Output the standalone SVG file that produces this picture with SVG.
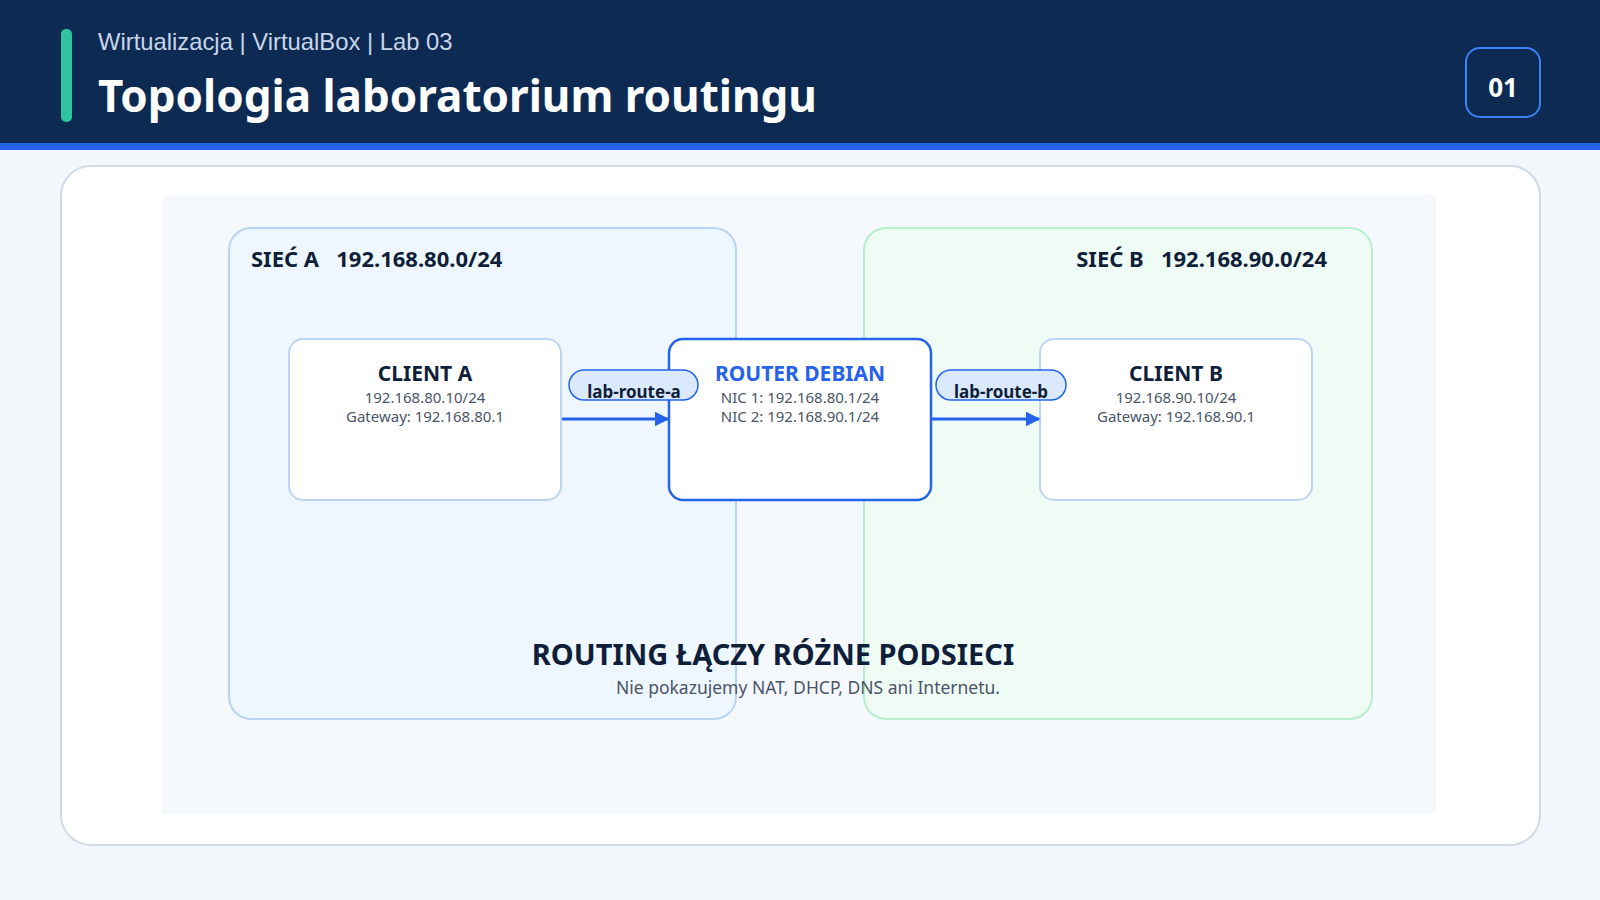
<svg xmlns="http://www.w3.org/2000/svg" width="1600" height="900" viewBox="0 0 1600 900">
<style>
.f{font-family:"Noto Sans","Open Sans",sans-serif}
.node{fill:#fff;stroke:#bcd5f5;stroke-width:2}
.nt{font-family:"Noto Sans",sans-serif;font-weight:700;font-size:21px;fill:#0f1f3a;text-anchor:middle}
.ns{font-family:"Noto Sans",sans-serif;font-size:15px;fill:#4a5568;text-anchor:middle}
.pill{fill:#dbe9fd;stroke:#2563eb;stroke-width:1.5}
.pt{font-family:"Noto Sans",sans-serif;font-weight:700;font-size:17px;fill:#0f1f3a;text-anchor:middle}
.conn{stroke:#2563eb;stroke-width:3;fill:none}
</style>
<defs><marker id="ah" viewBox="0 0 10 10" refX="9" refY="5" markerWidth="5" markerHeight="5" orient="auto"><path d="M0,0L10,5L0,10z" fill="#2563eb"/></marker></defs>
<rect width="1600" height="900" fill="#f3f6fa"/>
<rect width="1600" height="143" fill="#0c2a52"/>
<rect y="143" width="1600" height="7" fill="#2563eb"/>
<rect x="61" y="29" width="11" height="93" rx="5" fill="#2ec4a0"/>
<text x="98" y="50" font-family="Liberation Sans,sans-serif" font-size="23.8" fill="#c9d6ea">Wirtualizacja | VirtualBox | Lab 03</text>
<text x="98" y="112" class="f" font-weight="700" font-size="44" fill="#fff">Topologia laboratorium routingu</text>
<rect x="1466" y="48" width="74" height="69" rx="14" fill="#0c2a52" stroke="#3b82f6" stroke-width="2"/>
<text x="1503" y="97" class="f" font-weight="700" font-size="26" fill="#fff" text-anchor="middle">01</text>
<rect x="61" y="166" width="1479" height="679" rx="30" fill="#fff" stroke="#d0dbe8" stroke-width="2"/>
<rect x="163" y="195" width="1273" height="619" fill="#f5f9fe"/>
<g id="net-a"><rect x="229" y="228" width="507" height="491" rx="22" fill="#eef6ff" stroke="#b8d4f5" stroke-width="2"/>
<text x="251" y="267" class="f" font-weight="700" font-size="22" fill="#0f1f3a" xml:space="preserve" style="white-space:pre">SIEĆ A   192.168.80.0/24</text></g>
<g id="net-b"><rect x="864" y="228" width="508" height="491" rx="22" fill="#edfcf3" fill-opacity="0.85" stroke="#b5efcc" stroke-width="2"/>
<text x="1327" y="267" class="f" font-weight="700" font-size="22" fill="#0f1f3a" text-anchor="end" xml:space="preserve" style="white-space:pre">SIEĆ B   192.168.90.0/24</text></g>
<g id="client-a"><rect class="node" x="289" y="339" width="272" height="161" rx="14"/>
<text class="nt" x="425" y="381">CLIENT A</text><text class="ns" x="425" y="403">192.168.80.10/24</text><text class="ns" x="425" y="422">Gateway: 192.168.80.1</text></g>
<g id="router"><rect x="669" y="339" width="262" height="161" rx="14" fill="#fff" stroke="#2563eb" stroke-width="2.5"/>
<text class="nt" x="800" y="381" style="fill:#2563eb">ROUTER DEBIAN</text><text class="ns" x="800" y="403">NIC 1: 192.168.80.1/24</text><text class="ns" x="800" y="422">NIC 2: 192.168.90.1/24</text></g>
<g id="client-b"><rect class="node" x="1040" y="339" width="272" height="161" rx="14"/>
<text class="nt" x="1176" y="381">CLIENT B</text><text class="ns" x="1176" y="403">192.168.90.10/24</text><text class="ns" x="1176" y="422">Gateway: 192.168.90.1</text></g>
<g id="connectors">
<line class="conn" x1="562" y1="419" x2="668" y2="419" marker-end="url(#ah)"/>
<line class="conn" x1="932" y1="419" x2="1039" y2="419" marker-end="url(#ah)"/>
<rect class="pill" x="569" y="370" width="129" height="30" rx="15"/><text class="pt" x="634" y="398">lab-route-a</text>
<rect class="pill" x="936" y="370" width="130" height="30" rx="15"/><text class="pt" x="1001" y="398">lab-route-b</text>
</g>
<text x="773" y="665" class="f" font-weight="700" font-size="29" fill="#0f1f3a" text-anchor="middle">ROUTING ŁĄCZY RÓŻNE PODSIECI</text>
<text x="808" y="694" class="f" font-size="17.5" fill="#4a5568" text-anchor="middle">Nie pokazujemy NAT, DHCP, DNS ani Internetu.</text>
</svg>
